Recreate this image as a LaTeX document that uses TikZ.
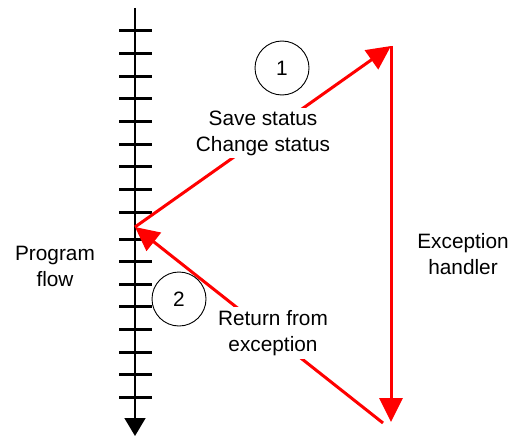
\documentclass[tikz,border=0pt]{standalone}
\usepackage{fontspec}
\setmainfont{Liberation Sans}
\usetikzlibrary{arrows.meta}
\begin{document}
\begin{tikzpicture}[x=1pt,y=-1pt,
  lbl/.style={font=\fontsize{20.8}{26}\selectfont, align=center, inner sep=3pt},
  wlbl/.style={lbl, fill=white},
  numcirc/.style={draw=black, line width=0.9pt, circle, minimum size=54pt, inner sep=0pt, font=\fontsize{20.8}{26}\selectfont},
  redarrow/.style={draw=red, line width=3pt, -{Triangle[length=24pt,width=23pt]}},
  tickmark/.style={draw=black, line width=3pt}]
\useasboundingbox (0,0) rectangle (524,436);
% program flow axis
\coordinate (axtop) at (135,8);
\coordinate (axbot) at (135,436);
\draw[line width=1.6pt, -{Triangle[length=18pt,width=21pt]}] (axtop) -- (axbot);
\foreach \yy in {30.5,53.5,76.5,98.5,121.5,144.5,166.5,189.5,212.5,239.5,261.5,284.5,306.5,329.5,352.5,374.5,397.5}
  \draw[tickmark] (119,\yy) -- (152,\yy);
% key points
\coordinate (pf) at (135,227);
\coordinate (ehtop) at (391,46);
\coordinate (ehbot) at (391,422);
\coordinate (ret) at (383,423);
% red arrows
\draw[redarrow] (pf) -- (ehtop);
\draw[redarrow] (ehtop) -- (ehbot);
\draw[redarrow] (ret) -- (pf);
% labels
\node[wlbl] (save) at (263,133) {Save status\\Change status};
\node[wlbl] (retlbl) at (273,333) {Return from\\exception};
\node[lbl] (progflow) at (55,266) {Program\\flow};
\node[lbl] (exhand) at (463,254) {Exception\\handler};
\node[numcirc] (c1) at (282,68) {1};
\node[numcirc] (c2) at (179,299) {2};
\end{tikzpicture}
\end{document}
